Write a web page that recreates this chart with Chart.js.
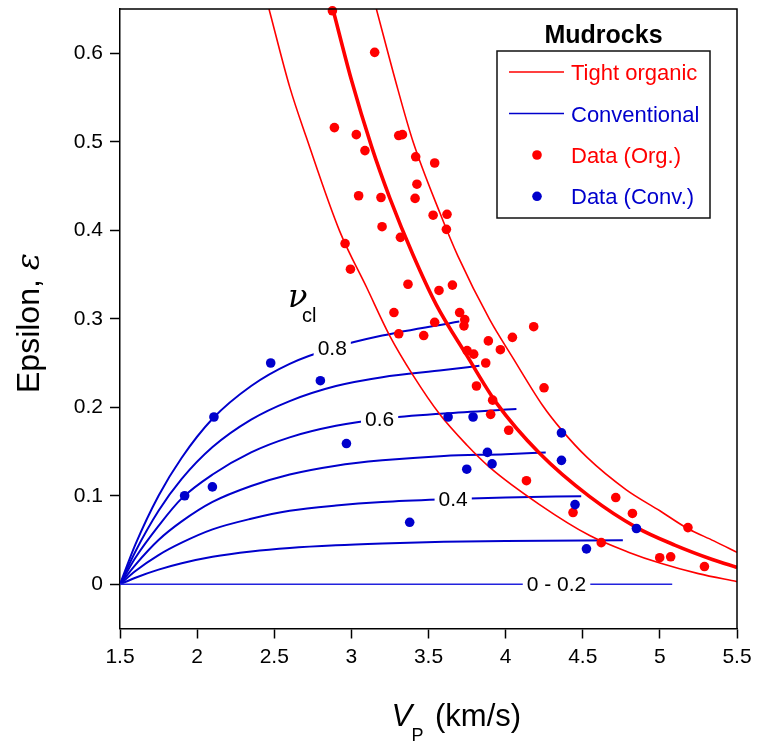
<!DOCTYPE html>
<html><head><meta charset="utf-8">
<script src="https://cdn.jsdelivr.net/npm/chart.js@4.4.1/dist/chart.umd.min.js"></script>
<style>html,body{margin:0;padding:0;background:#fff}canvas{display:block}</style>
</head><body>
<canvas id="c" width="758" height="747"></canvas>
<script>
// ---------- data ----------
const xTicks = [1.5, 2, 2.5, 3, 3.5, 4, 4.5, 5, 5.5];
const yTicks = [0, 0.1, 0.2, 0.3, 0.4, 0.5, 0.6];

// Tight organic model curves
const tightMidV = [2.88, 3.00, 3.13, 3.25, 3.40, 3.55, 3.75, 3.94, 4.22, 4.545, 4.85, 5.10, 5.34, 5.50];
const tightMidE = [0.650, 0.570, 0.495, 0.436, 0.372, 0.316, 0.258, 0.205, 0.148, 0.099, 0.064, 0.044, 0.028, 0.019];
const tightLowV = [2.466, 2.60, 2.708, 2.924, 3.10, 3.248, 3.40, 3.573, 3.75, 3.897, 4.22, 4.545, 4.80, 5.00, 5.25, 5.50];
const tightLowE = [0.650, 0.562, 0.505, 0.399, 0.335, 0.281, 0.236, 0.192, 0.157, 0.132, 0.090, 0.055, 0.036, 0.024, 0.012, 0.003];
const tightHighV = [3.162, 3.30, 3.40, 3.573, 3.69, 3.897, 4.05, 4.24, 4.36, 4.53, 4.78, 5.00, 5.18, 5.35, 5.50];
const tightHighE = [0.650, 0.560, 0.500, 0.420, 0.371, 0.299, 0.255, 0.202, 0.175, 0.143, 0.107, 0.083, 0.063, 0.049, 0.036];

// Conventional model curves (v_cl = 0.8 ... 0.3, and 0 - 0.2)
const conv08V = [1.5, 1.6, 1.75, 1.9, 2.1, 2.35, 2.6, 2.9, 3.2, 3.7];
const conv08E = [0, 0.045, 0.100, 0.143, 0.187, 0.224, 0.249, 0.268, 0.281, 0.297];
const conv07V = [1.5, 1.6, 1.75, 1.9, 2.1, 2.35, 2.6, 2.9, 3.2, 3.6, 3.83];
const conv07E = [0, 0.037, 0.083, 0.119, 0.155, 0.186, 0.207, 0.224, 0.234, 0.242, 0.247];
const conv06V = [1.5, 1.6, 1.75, 1.9, 2.1, 2.35, 2.6, 2.9, 3.2, 3.6, 4.07];
const conv06E = [0, 0.030, 0.066, 0.097, 0.124, 0.149, 0.166, 0.179, 0.187, 0.193, 0.198];
const conv05V = [1.5, 1.6, 1.75, 1.9, 2.1, 2.35, 2.6, 2.9, 3.2, 3.6, 4.0, 4.26];
const conv05E = [0, 0.022, 0.050, 0.071, 0.093, 0.111, 0.124, 0.134, 0.140, 0.145, 0.147, 0.149];
const conv04V = [1.5, 1.6, 1.75, 1.9, 2.1, 2.35, 2.6, 2.9, 3.2, 3.6, 4.0, 4.49];
const conv04E = [0, 0.015, 0.033, 0.047, 0.062, 0.074, 0.083, 0.089, 0.093, 0.096, 0.098, 0.0995];
const conv03V = [1.5, 1.6, 1.75, 1.9, 2.1, 2.35, 2.6, 2.9, 3.2, 3.6, 4.0, 4.76];
const conv03E = [0, 0.0074, 0.0165, 0.0237, 0.031, 0.037, 0.041, 0.044, 0.046, 0.048, 0.049, 0.0497];
const conv02V = [1.5, 5.08];
const conv02E = [0, 0];

// Data (Org.)
const orgV = [2.877, 3.151, 2.890, 3.032, 3.307, 3.331, 3.088, 3.417, 3.540, 3.425, 3.047, 3.192, 3.413, 3.530, 3.620, 3.616, 3.199,
  3.318, 2.959, 2.994, 3.367, 3.568, 3.655, 3.276, 3.702, 3.735, 3.730, 3.540, 3.307, 3.469, 4.182, 4.044, 3.888, 3.966, 3.750,
  3.793, 3.871, 3.811, 4.249, 3.916, 3.903, 4.020, 4.135, 4.437, 4.714, 4.822, 4.620, 4.999, 5.070, 5.182, 5.289];
const orgE = [0.648, 0.601, 0.516, 0.508, 0.507, 0.508, 0.490, 0.483, 0.476, 0.452, 0.439, 0.437, 0.436, 0.417, 0.418, 0.401, 0.404,
  0.392, 0.385, 0.356, 0.339, 0.332, 0.338, 0.307, 0.307, 0.299, 0.292, 0.296, 0.283, 0.281, 0.291, 0.279, 0.275, 0.265, 0.264,
  0.260, 0.250, 0.224, 0.222, 0.208, 0.192, 0.174, 0.117, 0.081, 0.098, 0.080, 0.047, 0.030, 0.031, 0.064, 0.020];

// Data (Conv.)
const convDataV = [2.477, 2.799, 2.109, 2.968, 1.919, 2.099, 3.627, 3.789, 4.362, 3.882, 3.912, 4.362, 3.748, 4.450, 3.378, 4.524, 4.848];
const convDataE = [0.250, 0.230, 0.189, 0.159, 0.100, 0.110, 0.189, 0.189, 0.171, 0.149, 0.136, 0.140, 0.130, 0.090, 0.070, 0.040, 0.063];

// inline curve labels
const curveLabels = ['0.8', '0.6', '0.4', '0 - 0.2'];
const curveLabelV = [2.876, 3.183, 3.66, 4.33];
const curveLabelE = [0.267, 0.1865, 0.0965, 0];

const legendLabels = ['Tight organic', 'Conventional', 'Data (Org.)', 'Data (Conv.)'];

// ---------- build ----------
const RED = '#ff0000', BLUE = '#0000cc';
const pts = (vs, es) => vs.map((v, i) => ({x: v, y: es[i]}));
function curve(vs, es, color, w, order) {
  return {data: pts(vs, es), showLine: true, borderColor: color, borderWidth: w, pointRadius: 0,
    pointHoverRadius: 0, cubicInterpolationMode: 'monotone', fill: false, order: order};
}
const datasets = [
  curve(conv02V, conv02E, '#2222dd', 1.3, 10),
  curve(conv03V, conv03E, BLUE, 2, 10),
  curve(conv04V, conv04E, BLUE, 2, 10),
  curve(conv05V, conv05E, BLUE, 2, 10),
  curve(conv06V, conv06E, BLUE, 2, 10),
  curve(conv07V, conv07E, BLUE, 2, 10),
  curve(conv08V, conv08E, BLUE, 2, 10),
  curve(tightLowV, tightLowE, RED, 1.6, 5),
  curve(tightHighV, tightHighE, RED, 1.6, 5),
  curve(tightMidV, tightMidE, RED, 3.6, 5),
  {data: pts(orgV, orgE), showLine: false, pointRadius: 4.8, pointBorderWidth: 0,
    pointBackgroundColor: RED, borderColor: RED, order: 2, clip: false},
  {data: pts(convDataV, convDataE), showLine: false, pointRadius: 4.8, pointBorderWidth: 0,
    pointBackgroundColor: BLUE, borderColor: BLUE, order: 1, clip: false}
];

const FONT = '"Liberation Sans", Arial, sans-serif';

const overlay = {
  id: 'overlay',
  afterDatasetsDraw(chart) {
    const {ctx, scales: {x, y}} = chart;
    ctx.save();
    ctx.font = '21px ' + FONT;
    ctx.textAlign = 'center';
    ctx.textBaseline = 'middle';
    curveLabels.forEach((t, i) => {
      const px = x.getPixelForValue(curveLabelV[i]);
      const py = y.getPixelForValue(curveLabelE[i]);
      const w = ctx.measureText(t).width;
      ctx.fillStyle = '#fff';
      ctx.fillRect(px - w / 2 - 4, py - 9, w + 8, 18);
      ctx.fillStyle = '#000';
      ctx.fillText(t, px, py + 1);
    });
    // nu_cl
    ctx.textAlign = 'left';
    ctx.textBaseline = 'alphabetic';
    ctx.font = 'italic 32px "DejaVu Serif", serif';
    ctx.fillText('\u03BD', 288, 307);
    ctx.font = '20px ' + FONT;
    ctx.fillText('cl', 302, 322);
    ctx.restore();
  },
  afterDraw(chart) {
    const {ctx, chartArea: a} = chart;
    ctx.save();
    // frame top/right
    ctx.strokeStyle = '#000';
    ctx.lineWidth = 1.5;
    ctx.beginPath();
    ctx.moveTo(a.left, a.top);
    ctx.lineTo(a.right, a.top);
    ctx.lineTo(a.right, a.bottom);
    ctx.stroke();

    // legend
    ctx.fillStyle = '#000';
    ctx.font = 'bold 25px ' + FONT;
    ctx.textAlign = 'center';
    ctx.textBaseline = 'alphabetic';
    ctx.fillText('Mudrocks', 603.5, 42.5);
    ctx.lineWidth = 1.5;
    ctx.strokeStyle = '#111';
    ctx.strokeRect(497, 51, 213, 167);
    const colors = [RED, BLUE, RED, BLUE];
    const rowY = [72, 113.5, 155, 196.3];
    ctx.font = '22px ' + FONT;
    ctx.textAlign = 'left';
    legendLabels.forEach((t, i) => {
      ctx.fillStyle = colors[i];
      ctx.strokeStyle = colors[i];
      if (i < 2) {
        ctx.lineWidth = 1.6;
        ctx.beginPath();
        ctx.moveTo(509, rowY[i]);
        ctx.lineTo(564, rowY[i]);
        ctx.stroke();
      } else {
        ctx.beginPath();
        ctx.arc(537, rowY[i], 4.8, 0, Math.PI * 2);
        ctx.fill();
      }
      ctx.fillText(t, 571, rowY[i] + 8);
    });

    // axis titles
    ctx.fillStyle = '#000';
    ctx.save();
    ctx.translate(38.5, 393);
    ctx.rotate(-Math.PI / 2);
    ctx.font = '32px ' + FONT;
    ctx.fillText('Epsilon, ', 0, 0);
    const w = ctx.measureText('Epsilon, ').width;
    ctx.font = 'italic 32px "DejaVu Serif", serif';
    ctx.fillText('\u03B5', w, 0);
    ctx.restore();

    ctx.font = 'italic 31px ' + FONT;
    ctx.fillText('V', 391.5, 726);
    ctx.font = '18px ' + FONT;
    ctx.fillText('P', 411.5, 741);
    ctx.font = '31px ' + FONT;
    ctx.fillText('(km/s)', 435, 726);
    ctx.restore();
  }
};

new Chart(document.getElementById('c'), {
  type: 'scatter',
  data: {datasets},
  options: {
    responsive: false,
    animation: false,
    devicePixelRatio: 1,
    layout: {padding: {left: 0, right: 21, top: 9, bottom: 0}},
    plugins: {legend: {display: false}, tooltip: {enabled: false}},
    scales: {
      x: {
        type: 'linear', min: 1.5, max: 5.5,
        afterBuildTicks: s => { s.ticks = xTicks.map(v => ({value: v})); },
        afterFit: s => { s.height = 118.5; s.paddingLeft = 0; s.paddingRight = 0; },
        ticks: {color: '#000', font: {family: FONT, size: 21}, padding: 6, maxRotation: 0,
          callback: v => String(v)},
        grid: {drawOnChartArea: false, drawTicks: true, tickLength: 10, tickWidth: 1.5, tickColor: '#000'},
        border: {display: true, color: '#000', width: 1.5}
      },
      y: {
        type: 'linear', min: -0.05, max: 0.65,
        afterBuildTicks: s => { s.ticks = yTicks.map(v => ({value: v})); },
        afterFit: s => { s.width = 120; s.paddingTop = 0; s.paddingBottom = 0; },
        ticks: {color: '#000', font: {family: FONT, size: 21}, padding: 7,
          callback: v => String(Math.round(v * 10) / 10)},
        grid: {drawOnChartArea: false, drawTicks: true, tickLength: 10, tickWidth: 1.5, tickColor: '#000'},
        border: {display: true, color: '#000', width: 1.5}
      }
    }
  },
  plugins: [overlay]
});
</script>
</body></html>
